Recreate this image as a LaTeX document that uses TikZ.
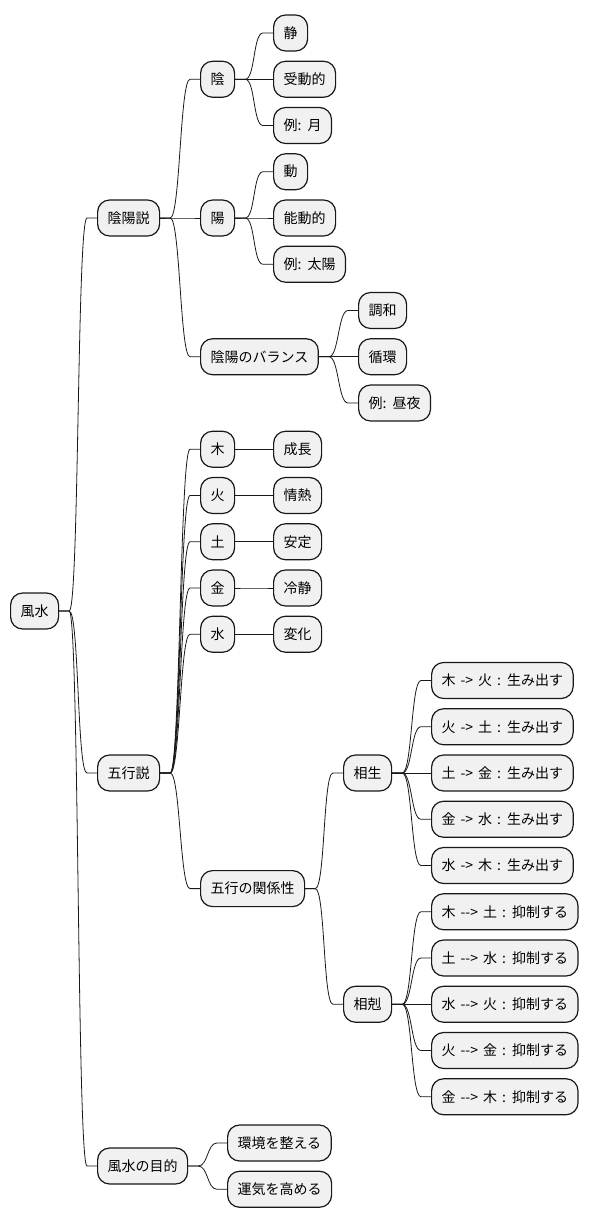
\documentclass[tikz,border=0pt]{standalone}
\usepackage{fontspec}
\newfontfamily\jp{Noto Sans CJK JP}
\usepackage{tikz}
\definecolor{boxfill}{HTML}{F1F1F1}
\definecolor{boxline}{HTML}{181818}
\newcommand{\topicfont}{\jp\fontsize{14}{17}\selectfont\spaceskip=5pt\relax}
\tikzset{
  topic/.style={draw=boxline,fill=boxfill,rounded corners=12pt,line width=1.2pt,
    minimum height=36pt,inner xsep=10pt,anchor=west,font=\topicfont},
  link/.style={draw=boxline,line width=.8pt}
}
\newcommand{\branch}[2]{%
  \draw[link] (#1.east) -- ++(10,0) .. controls +(10,0) and +(-10,0) .. ([xshift=-10pt]#2.west) -- (#2.west);
}

\begin{document}
\begin{tikzpicture}[x=1pt,y=-1pt]
  \useasboundingbox (0,0) rectangle (591,1224);
  % root and main topics
  \node[topic] (fs) at (10,611) {風水};
  \node[topic] (yys) at (97,218) {陰陽説};
  \node[topic] (gg) at (97,773) {五行説};
  \node[topic] (mk) at (97,1166) {風水の目的};
  \branch{fs}{yys} \branch{fs}{gg} \branch{fs}{mk}
  % yin and yang
  \node[topic] (yin) at (200,79.25) {陰};
  \node[topic] (yang) at (200,218) {陽};
  \node[topic] (bal) at (200,356.75) {陰陽のバランス};
  \branch{yys}{yin} \branch{yys}{yang} \branch{yys}{bal}
  \foreach \txt [count=\i from 0] in {静,受動的,例: 月} {
    \node[topic] (yinl\i) at (273,33+46.25*\i) {\txt};
    \branch{yin}{yinl\i}
  }
  \foreach \txt [count=\i from 3] in {動,能動的,例: 太陽} {
    \node[topic] (yangl\i) at (273,33+46.25*\i) {\txt};
    \branch{yang}{yangl\i}
  }
  \foreach \txt [count=\i from 6] in {調和,循環,例: 昼夜} {
    \node[topic] (ball\i) at (358,33+46.25*\i) {\txt};
    \branch{bal}{ball\i}
  }
  % five elements
  \foreach \el/\tr [count=\i from 9] in {木/成長,火/情熱,土/安定,金/冷静,水/変化} {
    \node[topic] (el\i) at (200,33+46.25*\i) {\el};
    \node[topic] (tr\i) at (273,33+46.25*\i) {\tr};
    \branch{gg}{el\i}
    \branch{el\i}{tr\i}
  }
  \node[topic] (rel) at (200,888.6) {五行の関係性};
  \branch{gg}{rel}
  \node[topic] (sosei) at (343,773) {相生};
  \node[topic] (sokoku) at (343,1004.25) {相剋};
  \branch{rel}{sosei} \branch{rel}{sokoku}
  \foreach \txt [count=\i from 14] in {木 -> 火 : 生み出す,火 -> 土 : 生み出す,土 -> 金 : 生み出す,金 -> 水 : 生み出す,水 -> 木 : 生み出す} {
    \node[topic] (sl\i) at (431,33+46.25*\i) {\txt};
    \branch{sosei}{sl\i}
  }
  \foreach \txt [count=\i from 19] in {木 -\kern0pt-> 土 : 抑制する,土 -\kern0pt-> 水 : 抑制する,水 -\kern0pt-> 火 : 抑制する,火 -\kern0pt-> 金 : 抑制する,金 -\kern0pt-> 木 : 抑制する} {
    \node[topic] (kl\i) at (431,33+46.25*\i) {\txt};
    \branch{sokoku}{kl\i}
  }
  % purpose
  \foreach \txt [count=\i from 24] in {環境を整える,運気を高める} {
    \node[topic] (mkl\i) at (227,33+46.25*\i) {\txt};
    \branch{mk}{mkl\i}
  }
\end{tikzpicture}
\end{document}
